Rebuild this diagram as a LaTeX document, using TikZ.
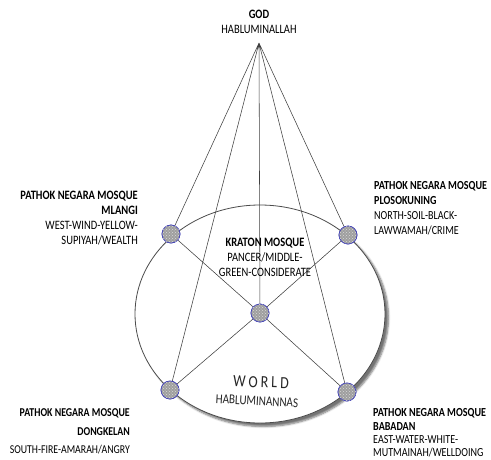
\documentclass[tikz,border=0pt]{standalone}
\usepackage{fontspec}
\setmainfont[FakeStretch=0.82]{Carlito}
\usetikzlibrary{shadows.blur,patterns,shapes.geometric}
\begin{document}
\begin{tikzpicture}[x=1pt,y=-1pt,
  lbl/.style={font=\fontsize{12.8}{15}\selectfont, text=black, inner sep=0pt},
  mosque/.style={circle, minimum size=18pt, inner sep=0pt, draw=blue!45!gray, line width=0.7pt,
    fill=gray!75, postaction={pattern=crosshatch dots, pattern color=gray!30}},
  link/.style={draw=black!75, line width=0.55pt},
  worldshape/.style={ellipse, minimum width=250pt, minimum height=218pt, inner sep=0pt,
    draw=black!70, line width=0.8pt, fill=white,
    blur shadow={shadow xshift=3.5pt, shadow yshift=-3.5pt, shadow blur steps=6, shadow opacity=55}}]
\useasboundingbox (0,0) rectangle (491,459);

% world ellipse
\node[worldshape] (world) at (260,314) {};

% apex
\coordinate (apex) at (259,43);

% mosque positions
\node[mosque] (ml) at (171,234) {};
\node[mosque] (pl) at (348,235) {};
\node[mosque] (dk) at (170,390) {};
\node[mosque] (bb) at (347,392) {};
\node[mosque] (kr) at (260,313) {};

% connectors
\path[link] (apex) -- (ml) (apex) -- (pl) (apex) -- (dk) (apex) -- (bb) (apex) -- (kr)
            (ml) -- (kr) (pl) -- (kr) (dk) -- (kr) (bb) -- (kr);

% redraw circles on top
\node[mosque] at (ml) {};
\node[mosque] at (pl) {};
\node[mosque] at (dk) {};
\node[mosque] at (bb) {};
\node[mosque] at (kr) {};

% labels
\node[lbl, anchor=north, align=center] (god) at (259,9.5) {\textbf{GOD}\\HABLUMINALLAH};
\node[lbl, anchor=north east, align=right] (mlt) at (138,190.5)
  {\textbf{PATHOK NEGARA MOSQUE}\\\textbf{MLANGI}\\WEST-WIND-YELLOW-\\SUPIYAH/WEALTH};
\node[lbl, font=\fontsize{12.3}{15}\selectfont, anchor=north west, align=left] (plt) at (374,181.5)
  {\textbf{PATHOK NEGARA MOSQUE}\\\textbf{PLOSOKUNING}\\NORTH-SOIL-BLACK-\\LAWWAMAH/CRIME};
\node[lbl, anchor=north, align=center] (krt) at (265,237.5)
  {\textbf{KRATON MOSQUE}\\PANCER/MIDDLE-\\GREEN-CONSIDERATE};
\node[lbl, font=\fontsize{12}{18.5}\selectfont, anchor=north east, align=right] (dkt) at (130,408.5)
  {\textbf{PATHOK NEGARA MOSQUE}\\\textbf{DONGKELAN}\\SOUTH-FIRE-AMARAH/ANGRY};
\node[lbl, font=\fontsize{12.3}{13.4}\selectfont, anchor=north west, align=left] (bbt) at (373,408.5)
  {\textbf{PATHOK NEGARA MOSQUE}\\\textbf{BABADAN}\\EAST-WATER-WHITE-\\MUTMAINAH/WELLDOING};

\node[inner sep=0pt, text=black!85, rotate=-2, font=\fontsize{17}{17}\selectfont] (wt) at (261,382)
  {W\kern3pt O\kern3pt R\kern3pt L\kern3pt D};
\node[inner sep=0pt, text=black!85, rotate=-3, font=\fontsize{13.5}{13.5}\selectfont] (wh) at (257,401)
  {HABLUMINANNAS};
\end{tikzpicture}
\end{document}
